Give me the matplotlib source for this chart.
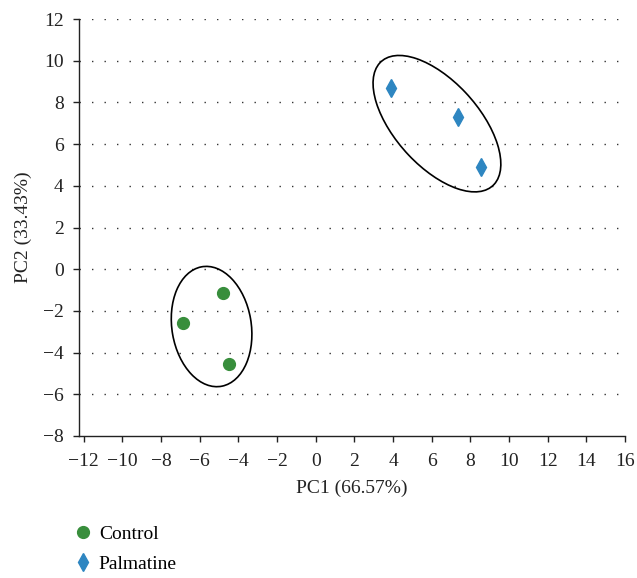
import matplotlib
matplotlib.use("Agg")
import matplotlib.pyplot as plt
from matplotlib.patches import Ellipse
from matplotlib.lines import Line2D

# Data
groups = ["Control", "Palmatine"]
control_pc1 = [-4.82, -6.88, -4.51]
control_pc2 = [-1.14, -2.58, -4.55]
palmatine_pc1 = [3.91, 7.37, 8.56]
palmatine_pc2 = [8.69, 7.30, 4.90]
# confidence ellipses: center x, center y, width, height, angle
control_ellipse = (-5.39, -2.75, 5.82, 4.10, 100.7)
palmatine_ellipse = (6.27, 6.98, 8.30, 4.20, -44.5)
xticks = list(range(-12, 17, 2))
yticks = list(range(-8, 13, 2))
xlabel = "PC1 (66.57%)"
ylabel = "PC2 (33.43%)"

green = "#388E3C"
blue = "#2E86C1"
FS = 14

plt.rcParams["font.family"] = ["Liberation Serif", "DejaVu Serif"]
fig = plt.figure(figsize=(6.37, 5.78), dpi=100)
ax = fig.add_axes([79/637, 1-436/578, (625-79)/637, (436-19)/578])

ax.set_xlim(-12.25, 16)
ax.set_ylim(-8, 12)
ax.set_xticks(xticks)
ax.set_yticks(yticks)
ax.tick_params(labelsize=FS, length=4, width=1, color="#222222", labelcolor="#222222")
ax.tick_params(axis="x", pad=8)
ax.tick_params(axis="y", pad=7)
for s in ["top", "right"]:
    ax.spines[s].set_visible(False)
for s in ["left", "bottom"]:
    ax.spines[s].set_color("#222222")
    ax.spines[s].set_linewidth(1)

for y in yticks[1:]:
    ax.axhline(y, color="#333333", lw=1.0, ls=(0, (1, 8)), zorder=0)

ax.plot(control_pc1, control_pc2, ls="none", marker="o", ms=8.5, color=green, zorder=3)
ax.plot(palmatine_pc1, palmatine_pc2, ls="none", marker="d", ms=8.8, color=blue, zorder=3)

for cx, cy, w, h, ang in [control_ellipse, palmatine_ellipse]:
    ax.add_patch(Ellipse((cx, cy), w, h, angle=ang, fill=False, ec="black", lw=1.2, zorder=2))

ax.set_xlabel(xlabel, fontsize=FS, color="#222222", labelpad=7.5)
ax.set_ylabel(ylabel, fontsize=FS, color="#222222", labelpad=8)

handles = [
    Line2D([], [], ls="none", marker="o", ms=8.5, color=green),
    Line2D([], [], ls="none", marker="d", ms=8.8, color=blue),
]
fig.legend(handles, groups, loc="center left", bbox_to_anchor=(75.5/637, 1-549/578),
           frameon=False, fontsize=FS, handlelength=0.8, handletextpad=0.4,
           labelspacing=0.65, borderaxespad=0, borderpad=0)

fig.savefig("out.png", dpi=100)
